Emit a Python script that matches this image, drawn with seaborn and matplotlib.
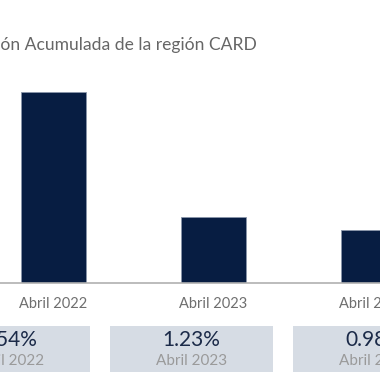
import numpy as np
import pandas as pd
import matplotlib
matplotlib.use("Agg")
import matplotlib.pyplot as plt
from matplotlib.patches import Rectangle
import seaborn as sns

# data
categories = ["Abril 2022", "Abril 2023", "Abril 2024"]
inflation = [3.54, 1.23, 0.98]
card_values = ["3.54%", "1.23%", "0.98%"]
card_labels = ["Abril 2022", "Abril 2023", "Abril 2024"]

title = "Inflación Acumulada de la región CARD"

navy = "#071d42"
card_bg = "#d6dce4"

sns.set_theme(style="white")
plt.rcParams["font.family"] = ["Lato", "DejaVu Sans"]

W = H = 380
fig = plt.figure(figsize=(3.8, 3.8), dpi=100)

def px_box(x0, y0, x1, y1):
    # pixel box (top-left origin) -> figure coords
    return [x0 / W, 1 - y1 / H, (x1 - x0) / W, (y1 - y0) / H]

# main bar axes, wider than the figure (chart is cropped)
ax = fig.add_axes(px_box(-26.5, 67, 453.5, 283))
df = pd.DataFrame({"mes": categories, "valor": inflation})
sns.barplot(data=df, x="mes", y="valor", color=navy, width=0.406, ax=ax,
            saturation=1, edgecolor="#8a96aa", linewidth=0.6)
ax.set_xlim(-0.5, 2.5)
ax.set_ylim(0, 4.0)
ax.set_xlabel("")
ax.set_ylabel("")
ax.set_yticks([])
ax.tick_params(axis="x", length=0, pad=10, labelsize=10.5, labelcolor="#6f6f6f")
for s in ["top", "right", "left"]:
    ax.spines[s].set_visible(False)
ax.spines["bottom"].set_color("#b0b0b0")
ax.spines["bottom"].set_linewidth(1.2)
ax.patch.set_alpha(0)

# title
fig.text(257 / W, 1 - 45 / H, title, ha="right", va="center",
         fontsize=12.6, color="#666666")

# summary cards
cax = fig.add_axes(px_box(-83, 326, 466, 372))
cax.set_xlim(-0.5, 2.5)
cax.set_ylim(0, 1)
cax.axis("off")
for i, (val, lab) in enumerate(zip(card_values, card_labels)):
    cax.add_patch(Rectangle((i - 0.445, 0), 0.89, 1, facecolor=card_bg,
                            edgecolor="none"))
    cax.text(i, 0.7, val, ha="center", va="center", fontsize=15,
             color="#1b2a48")
    cax.text(i, 0.24, lab, ha="center", va="center", fontsize=11,
             color="#9a9a9a")

fig.savefig("out.png", dpi=100)
